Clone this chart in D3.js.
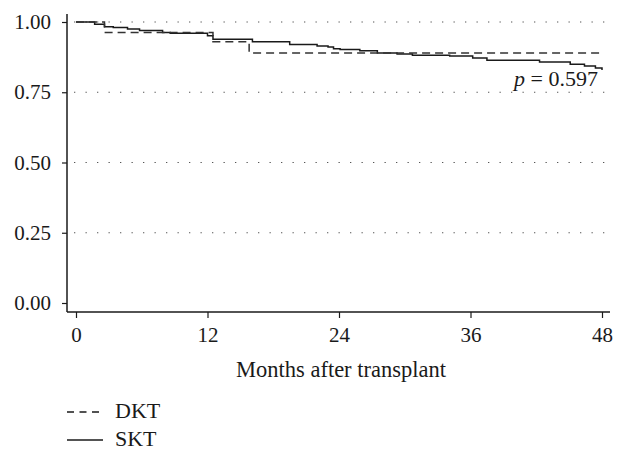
<!DOCTYPE html>
<html>
<head>
<meta charset="utf-8">
<script src="https://cdn.jsdelivr.net/npm/d3@7"></script>
<style>
  body { margin: 0; background: #fff; }
  svg { display: block; }
  text { font-family: "Liberation Serif", "Times New Roman", serif; fill: #1a1a1a; }
</style>
</head>
<body>
<svg id="chart" width="625" height="458"></svg>
<script>
// ---- data ----
const xTicks = [0, 12, 24, 36, 48];
const yTicks = [0, 0.25, 0.5, 0.75, 1.0];
const gridValues = [0.25, 0.5, 0.75, 1.0];
const seriesNames = ["DKT", "SKT"];
const xTitle = "Months after transplant";
const pLabel = "0.597";

const dktTime = [0, 2.6, 12.5, 15.8, 48];
const dktSurv = [1.0, 0.963, 0.930, 0.890, 0.890];

const sktTime = [0, 1.7, 2.6, 3.4, 4.7, 5.8, 7.9, 8.6, 12.0, 12.5, 16.1, 19.5, 22.0, 23.0, 23.5, 24.1, 25.9, 27.5, 29.3, 30.7, 34.1, 36.2, 37.5, 42.3, 45.1, 46.4, 47.4, 48];
const sktSurv = [1.0, 0.992, 0.983, 0.980, 0.975, 0.970, 0.963, 0.960, 0.951, 0.939, 0.930, 0.920, 0.915, 0.911, 0.905, 0.902, 0.898, 0.890, 0.886, 0.882, 0.879, 0.872, 0.864, 0.858, 0.850, 0.843, 0.836, 0.829];

// ---- chart ----
const svg = d3.select("#chart");
const x = d3.scaleLinear().domain([0, 48]).range([76, 602]);
const y = d3.scaleLinear().domain([0, 1]).range([303, 22]);
const ink = "#1a1a1a";

// gridlines
svg.append("g").selectAll("line").data(gridValues).join("line")
  .attr("x1", 74).attr("x2", 608)
  .attr("y1", d => y(d)).attr("y2", d => y(d))
  .attr("stroke", "#555").attr("stroke-width", 1.2)
  .attr("stroke-dasharray", "1.3,10.2");

// y axis
const yAxis = svg.append("g").attr("transform", "translate(67,0)")
  .call(d3.axisLeft(y).tickValues(yTicks).tickFormat(d3.format(".2f")).tickSize(5).tickPadding(11));
yAxis.select(".domain").remove();
yAxis.selectAll(".tick line").attr("stroke", ink).attr("stroke-width", 1.2);
yAxis.selectAll(".tick text").attr("font-size", "21px").attr("fill", ink)
  .attr("font-family", "Liberation Serif, serif");
svg.append("line").attr("x1", 67).attr("x2", 67).attr("y1", 14).attr("y2", 312)
  .attr("stroke", ink).attr("stroke-width", 1.5);

// x axis
const xAxis = svg.append("g").attr("transform", "translate(0,312)")
  .call(d3.axisBottom(x).tickValues(xTicks).tickSize(6).tickPadding(9));
xAxis.select(".domain").remove();
xAxis.selectAll(".tick line").attr("stroke", ink).attr("stroke-width", 1.2);
xAxis.selectAll(".tick text").attr("font-size", "21px").attr("fill", ink)
  .attr("font-family", "Liberation Serif, serif");
svg.append("line").attr("x1", 67).attr("x2", 610).attr("y1", 312).attr("y2", 312)
  .attr("stroke", ink).attr("stroke-width", 1.5);

// x title
svg.append("text").attr("x", 341).attr("y", 377).attr("text-anchor", "middle")
  .attr("font-size", "22.5px").text(xTitle);

// curves
const line = d3.line().x(d => x(d[0])).y(d => y(d[1])).curve(d3.curveStepAfter);
const dktData = dktTime.map((t, i) => [t, dktSurv[i]]);
const sktData = sktTime.map((t, i) => [t, sktSurv[i]]);

svg.append("path").datum(sktData).attr("d", line)
  .attr("fill", "none").attr("stroke", ink).attr("stroke-width", 1.5);
svg.append("path").datum(dktData).attr("d", line)
  .attr("fill", "none").attr("stroke", "#333").attr("stroke-width", 1.5)
  .attr("stroke-dasharray", "8,5");

// p value
const pt = svg.append("text").attr("x", 598).attr("y", 86).attr("text-anchor", "end")
  .attr("font-size", "22px");
pt.append("tspan").attr("font-style", "italic").text("p");
pt.append("tspan").text(" = " + pLabel);

// legend
const legend = svg.append("g");
seriesNames.forEach((name, i) => {
  const ly = 412 + i * 28;
  legend.append("line").attr("x1", 67).attr("x2", 103).attr("y1", ly).attr("y2", ly)
    .attr("stroke", ink).attr("stroke-width", 1.5)
    .attr("stroke-dasharray", name === "DKT" ? "7,5.5" : null);
  legend.append("text").attr("x", 115).attr("y", ly + 6).attr("font-size", "22px").text(name);
});
</script>
</body>
</html>
